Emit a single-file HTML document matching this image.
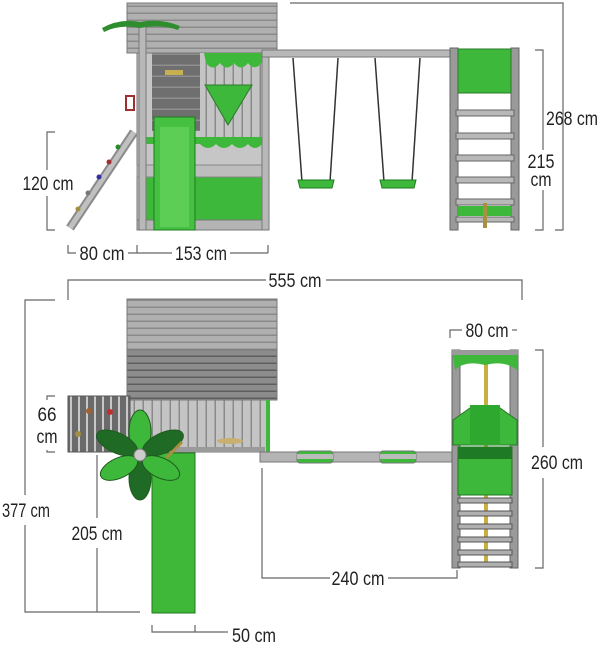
<!DOCTYPE html>
<html><head><meta charset="utf-8"><style>
html,body{margin:0;padding:0;background:#fff;width:600px;height:645px;overflow:hidden}
svg text{font-family:"Liberation Sans",sans-serif;font-size:19px;fill:#222}
</style></head><body>
<svg width="600" height="645" viewBox="0 0 600 645" xmlns="http://www.w3.org/2000/svg">
<defs>
<pattern id="roof" width="10" height="7" patternUnits="userSpaceOnUse"><rect width="10" height="7" fill="#b0b0b0"/><rect y="5.5" width="10" height="1.5" fill="#8a8a8a"/></pattern>
<pattern id="roofd" width="10" height="7" patternUnits="userSpaceOnUse"><rect width="10" height="7" fill="#8c8c8c"/><rect y="5.5" width="10" height="1.5" fill="#5e5e5e"/></pattern>
<pattern id="vert" width="9" height="10" patternUnits="userSpaceOnUse"><rect width="9" height="10" fill="#c4c4c4"/><rect x="7.5" width="1.5" height="10" fill="#8a8a8a"/></pattern>
<pattern id="vertd" width="8" height="10" patternUnits="userSpaceOnUse"><rect width="8" height="10" fill="#6a6a6a"/><rect x="6" width="2" height="10" fill="#c8c8c8"/></pattern>
<pattern id="hd" width="10" height="11" patternUnits="userSpaceOnUse"><rect width="10" height="11" fill="#6f6f6f"/><rect y="9.5" width="10" height="1.5" fill="#8f8f8f"/></pattern>
</defs>
<g stroke="#666" stroke-width="1.2" fill="none">
<polyline points="290,3 563,3 563,230 555,230"/>
<polyline points="535,50 543,50 543,150"/><polyline points="543,190 543,230 535,230"/>
<polyline points="55,132 47,132 47,170"/><polyline points="47,196 47,230 55,230"/>
<polyline points="68,245 68,253 76,253"/><line x1="128" y1="253" x2="172" y2="253"/><line x1="137" y1="245" x2="137" y2="253"/><line x1="230" y1="253" x2="268" y2="253"/><line x1="268" y1="245" x2="268" y2="253"/>
<polyline points="68,300 68,280 266,280"/><polyline points="326,280 522,280 522,300"/>
<polyline points="450,338 450,330 462,330"/><line x1="512" y1="330" x2="517" y2="330"/>
<polyline points="535,350 543,350 543,447"/><polyline points="543,478 543,568 535,568"/>
<polyline points="55,300 25,300 25,495"/><polyline points="25,525 25,612 140,612"/>
<polyline points="55,396 47,396 47,400"/><polyline points="47,450 47,452 55,452"/>
<line x1="97" y1="455" x2="97" y2="518"/><line x1="97" y1="548" x2="97" y2="612"/>
<polyline points="262,468 262,578 330,578"/><polyline points="388,578 457,578 457,570"/>
<polyline points="152,625 152,632 228,632"/><line x1="195" y1="625" x2="195" y2="632"/>
</g>
<g text-anchor="middle">
<text x="572" y="125" textLength="52" lengthAdjust="spacingAndGlyphs">268 cm</text>
<text x="541" y="168" textLength="27" lengthAdjust="spacingAndGlyphs">215</text><text x="541" y="186" textLength="21" lengthAdjust="spacingAndGlyphs">cm</text>
<text x="48" y="190" textLength="51" lengthAdjust="spacingAndGlyphs">120 cm</text>
<text x="102" y="260" textLength="45" lengthAdjust="spacingAndGlyphs">80 cm</text>
<text x="201" y="260" textLength="52" lengthAdjust="spacingAndGlyphs">153 cm</text>
<text x="295" y="287" textLength="53" lengthAdjust="spacingAndGlyphs">555 cm</text>
<text x="487" y="337" textLength="43" lengthAdjust="spacingAndGlyphs">80 cm</text>
<text x="557" y="469" textLength="52" lengthAdjust="spacingAndGlyphs">260 cm</text>
<text x="47" y="421" textLength="19" lengthAdjust="spacingAndGlyphs">66</text><text x="47" y="443" textLength="21" lengthAdjust="spacingAndGlyphs">cm</text>
<text x="26" y="517" textLength="48" lengthAdjust="spacingAndGlyphs">377 cm</text>
<text x="97" y="540" textLength="51" lengthAdjust="spacingAndGlyphs">205 cm</text>
<text x="358" y="585" textLength="53" lengthAdjust="spacingAndGlyphs">240 cm</text>
<text x="254" y="642" textLength="44" lengthAdjust="spacingAndGlyphs">50 cm</text>
</g>

<rect x="127" y="3" width="150" height="50" fill="url(#roof)" stroke="#777"/>
<rect x="137" y="53" width="131" height="177" fill="#c6c6c6" stroke="#777"/>
<rect x="152" y="53" width="48" height="78" fill="url(#hd)"/>
<rect x="200" y="53" width="62" height="84" fill="url(#vert)"/>
<polygon points="205,85 252,85 228,125" fill="#3db83a" stroke="#2a7a2a"/>
<path d="M204,53 L262,53 L262,62 Q255,72 248,63 Q241,72 234,63 Q227,72 220,63 Q213,72 206,63 Z" fill="#3db83a"/>
<path d="M145,137 L262,137 L262,144 Q255,152 248,144 Q240,152 232,144 Q224,152 216,144 Q208,152 200,144 L145,144 Z" fill="#3db83a"/>
<rect x="143" y="177" width="119" height="43" fill="#3db83a" stroke="#777"/>
<rect x="137" y="220" width="131" height="10" fill="#b4b4b4" stroke="#777"/>
<rect x="137" y="165" width="131" height="12" fill="#bdbdbd" stroke="#888"/>
<rect x="139" y="25" width="7" height="205" fill="#b8b8b8" stroke="#777"/>
<rect x="262" y="50" width="7" height="180" fill="#b8b8b8" stroke="#777"/>
<rect x="154" y="117" width="41" height="113" fill="#45c040" stroke="#1f7a1f"/>
<rect x="160" y="127" width="29" height="100" fill="#5ccd55"/>
<path d="M102,28 Q120,18 140,22 Q160,18 180,26 L178,30 Q160,24 140,28 Q120,24 104,32 Z" fill="#2e8e2e"/>
<rect x="165" y="70" width="18" height="5" fill="#c8b050"/>
<rect x="126" y="96" width="8" height="14" fill="none" stroke="#a03030" stroke-width="2"/>
<line x1="70" y1="228" x2="134" y2="132" stroke="#8a8a8a" stroke-width="9"/>
<line x1="70" y1="228" x2="134" y2="132" stroke="#c0c0c0" stroke-width="5"/>
<circle cx="118" cy="147" r="2.5" fill="#2a8a2a"/><circle cx="109" cy="162" r="2.5" fill="#a03030"/><circle cx="99" cy="177" r="2.5" fill="#3030a0"/><circle cx="88" cy="193" r="2.5" fill="#777"/><circle cx="78" cy="209" r="2.5" fill="#a09040"/>
<rect x="262" y="50" width="195" height="7" fill="#b8b8b8" stroke="#777"/>
<g stroke="#333" stroke-width="1.5">
<line x1="293" y1="58" x2="302" y2="182"/><line x1="338" y1="58" x2="330" y2="182"/>
<line x1="375" y1="58" x2="384" y2="182"/><line x1="420" y1="58" x2="412" y2="182"/>
</g>
<path d="M298,180 L334,180 L332,188 L300,188 Z" fill="#3db83a" stroke="#1f7a1f"/>
<path d="M380,180 L416,180 L414,188 L382,188 Z" fill="#3db83a" stroke="#1f7a1f"/>
<rect x="450" y="48" width="8" height="182" fill="#9a9a9a" stroke="#666"/>
<rect x="511" y="48" width="8" height="182" fill="#9a9a9a" stroke="#666"/>
<rect x="458" y="49" width="53" height="44" fill="#3db83a" stroke="#2a7a2a"/>
<g fill="#b8b8b8" stroke="#666">
<rect x="456" y="110" width="58" height="6"/><rect x="456" y="133" width="58" height="6"/><rect x="456" y="155" width="58" height="6"/><rect x="456" y="177" width="58" height="6"/><rect x="456" y="199" width="58" height="6"/><rect x="456" y="217" width="58" height="5"/>
</g>
<rect x="458" y="206" width="53" height="10" fill="#3db83a"/>
<rect x="483" y="203" width="4" height="25" fill="#a89040"/>

<rect x="127" y="299" width="150" height="51" fill="url(#roof)" stroke="#777"/>
<rect x="127" y="350" width="150" height="50" fill="url(#roofd)" stroke="#777"/>
<rect x="130" y="400" width="138" height="52" fill="url(#vert)" stroke="#777"/>
<rect x="68" y="396" width="62" height="56" fill="url(#vertd)" stroke="#555"/>
<circle cx="89" cy="411" r="3" fill="#a06030"/><circle cx="110" cy="412" r="3" fill="#c03030"/><circle cx="78" cy="434" r="3" fill="#a09040"/><circle cx="99" cy="437" r="3" fill="#3030a0"/>
<rect x="266" y="400" width="4" height="55" fill="#3db83a"/>
<rect x="130" y="447" width="135" height="5" fill="#9a9a9a"/>
<rect x="260" y="452" width="198" height="10" fill="#b4b4b4" stroke="#777"/>
<rect x="297" y="451" width="36" height="12" rx="3" fill="#3db83a" stroke="#777"/>
<rect x="380" y="451" width="36" height="12" rx="3" fill="#3db83a" stroke="#777"/>
<rect x="297" y="454" width="36" height="5" fill="#bbb"/><rect x="380" y="454" width="36" height="5" fill="#bbb"/>
<rect x="152" y="453" width="43" height="160" fill="#3fb83a" stroke="#1f7a1f"/>
<g stroke="#1f5a1f" stroke-width="1">
<ellipse cx="140" cy="432" rx="11" ry="22" fill="#3db83a"/>
<ellipse cx="140" cy="478" rx="11" ry="22" fill="#1f6a25"/>
<ellipse cx="117" cy="443" rx="22" ry="10" transform="rotate(25 117 443)" fill="#1f6a25"/>
<ellipse cx="163" cy="443" rx="22" ry="10" transform="rotate(-25 163 443)" fill="#1f6a25"/>
<ellipse cx="119" cy="468" rx="20" ry="10" transform="rotate(-25 119 468)" fill="#3db83a"/>
<ellipse cx="161" cy="468" rx="20" ry="10" transform="rotate(25 161 468)" fill="#3db83a"/>
</g>
<circle cx="140" cy="455" r="6" fill="#ccc" stroke="#777"/>
<line x1="166" y1="458" x2="182" y2="442" stroke="#a89040" stroke-width="3"/>
<ellipse cx="230" cy="441" rx="13" ry="3" fill="#c8b070"/>
<rect x="484" y="360" width="4" height="205" fill="#c8b040"/>
<rect x="452" y="350" width="8" height="218" fill="#9a9a9a" stroke="#666"/>
<rect x="510" y="350" width="8" height="218" fill="#9a9a9a" stroke="#666"/>
<rect x="452" y="350" width="66" height="5" fill="#9a9a9a"/>
<path d="M453,355 L517,355 L517,370 Q505,360 485,365 Q465,360 455,370 Z" fill="#3db83a"/>
<path d="M453,420 L470,408 L485,415 L500,408 L517,420 L517,445 L453,445 Z" fill="#3db83a" stroke="#2a7a2a"/>
<rect x="470" y="405" width="30" height="40" fill="#2ea82e"/>
<rect x="458" y="447" width="54" height="48" fill="#3db83a" stroke="#1f7a1f"/>
<rect x="458" y="447" width="54" height="12" fill="#1f7a25"/>
<g fill="#b0b0b0" stroke="#555">
<rect x="458" y="498" width="54" height="5"/><rect x="458" y="511" width="54" height="5"/><rect x="458" y="524" width="54" height="5"/><rect x="458" y="537" width="54" height="5"/><rect x="458" y="550" width="54" height="5"/><rect x="458" y="562" width="54" height="5"/>
</g>
</svg>
</body></html>
